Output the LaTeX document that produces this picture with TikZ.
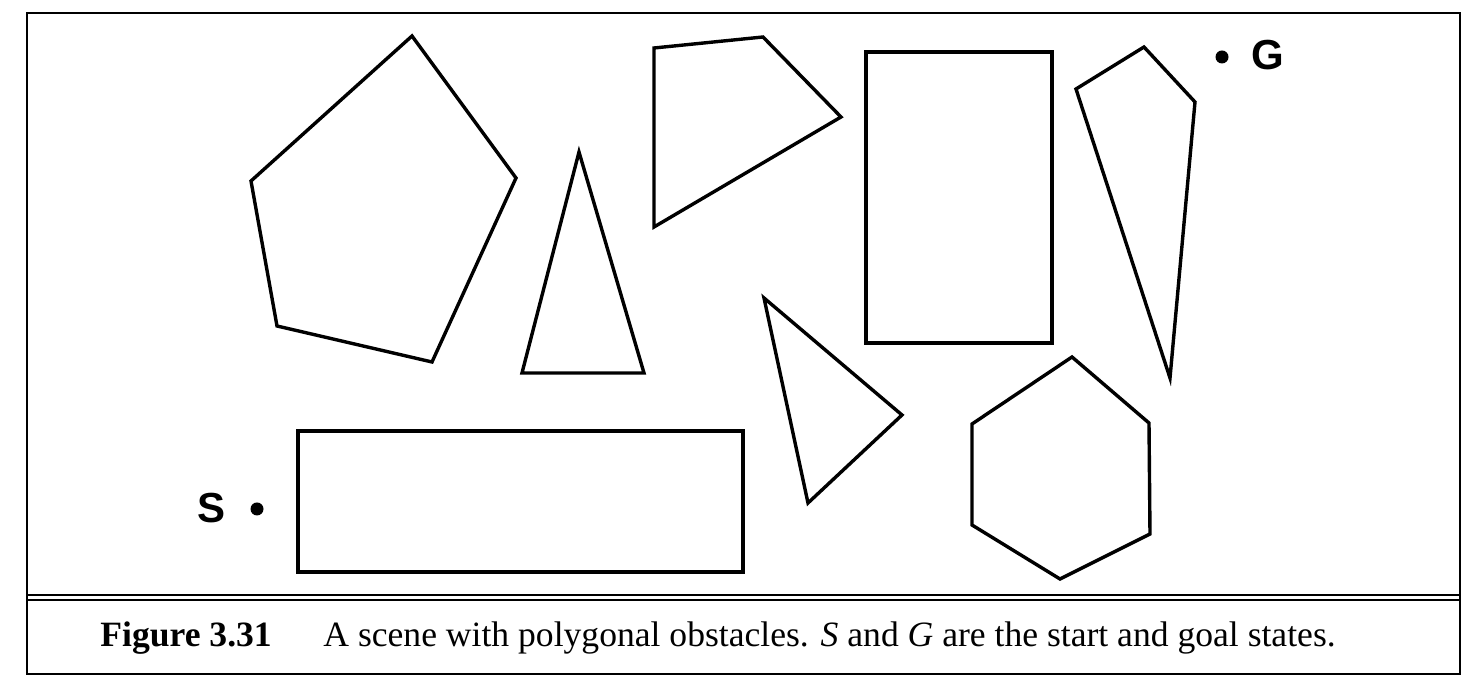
\documentclass[tikz,border=0pt]{standalone}
\usepackage{fontspec}
\setmainfont{Liberation Serif}
\newfontfamily\labelfont{Liberation Sans}
\tikzset{
  obstacle/.style={draw, line width=1.7pt, line join=miter},
  frameline/.style={draw, line width=1pt},
  ruleline/.style={draw, line width=0.75pt},
  statedot/.style={fill, circle, inner sep=0pt, minimum size=6.5pt},
  statelabel/.style={font=\labelfont\bfseries\fontsize{21}{24}\selectfont, inner sep=0pt},
  captiontext/.style={anchor=base west, inner sep=0pt, font=\fontsize{17.8}{21}\selectfont},
}
\begin{document}
\begin{tikzpicture}[x=0.5pt, y=-0.5pt]
    \useasboundingbox (0,0) rectangle (1480,688);
    % frame and caption rule
    \draw [frameline] (27,13) rectangle (1460,674);
    \draw [ruleline] (27,595) -- (1460,595);
    \draw [ruleline] (27,600) -- (1460,600);

    % obstacles, top row
    \draw [obstacle] (412,36) -- (516,178) -- (432,362) -- (277,326) -- (251,181) -- cycle;
    \draw [obstacle] (579,152) -- (644,373) -- (522,373) -- cycle;
    \draw [obstacle] (654,48) -- (763,37) -- (841,117) -- (654,227) -- cycle;
    \draw [obstacle] (866,52) rectangle (1052,343);
    \draw [obstacle] (1076,89) -- (1144,47) -- (1195,102) -- (1170,378) -- cycle;

    % obstacles, bottom row
    \draw [obstacle] (298,431) rectangle (743,572);
    \draw [obstacle] (764,298) -- (902,415) -- (808,503) -- cycle;
    \draw [obstacle] (1072,357) -- (1149,423) -- (1150,534) -- (1060,579) -- (972,525) -- (972,424) -- cycle;

    % start and goal
    \node [statedot] (sdot) at (257,509) {};
    \node [statelabel] (slabel) at (212,508) {S};
    \node [statedot] (gdot) at (1222,57) {};
    \node [statelabel] (glabel) at (1268,55) {G};

    % caption
    \node [captiontext, font=\bfseries\fontsize{17.8}{21}\selectfont] (fignum) at (100,647) {Figure 3.31};
    \node [captiontext] (figtext) at (323,647) {A scene with polygonal obstacles. \textit{S} and \textit{G} are the start and goal states.};
\end{tikzpicture}
\end{document}
